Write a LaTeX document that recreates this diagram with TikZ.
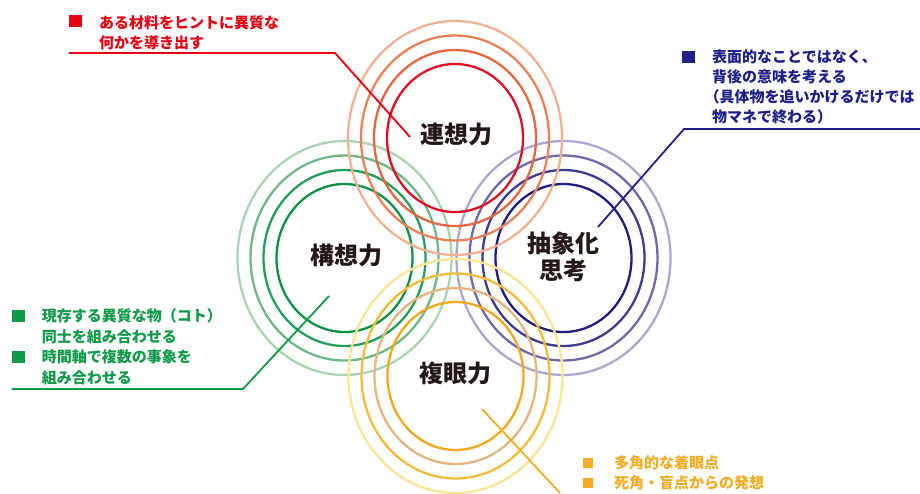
\documentclass[tikz,border=0pt]{standalone}
\usepackage{fontspec}
\newfontfamily\jpfont{Noto Sans CJK JP}
\usetikzlibrary{calc}

% ring colours, inner to outer
\definecolor{koso1}{HTML}{0C9247}
\definecolor{koso2}{HTML}{22A05A}
\definecolor{koso3}{HTML}{6EB886}
\definecolor{koso4}{HTML}{A8D4B0}
\definecolor{chusho1}{HTML}{1B1F7F}
\definecolor{chusho2}{HTML}{3F3B8F}
\definecolor{chusho3}{HTML}{6F69AC}
\definecolor{chusho4}{HTML}{ABA6D2}
\definecolor{renso1}{HTML}{E00F22}
\definecolor{renso2}{HTML}{E8663F}
\definecolor{renso3}{HTML}{EC8158}
\definecolor{renso4}{HTML}{F3B193}
\definecolor{fukugan1}{HTML}{F2A81D}
\definecolor{fukugan2}{HTML}{E4B67E}
\definecolor{fukugan3}{HTML}{F6BA3A}
\definecolor{fukugan4}{HTML}{FBE595}
% text colours
\definecolor{labelBlack}{HTML}{231815}
\definecolor{rensoText}{HTML}{E60012}
\definecolor{chushoText}{HTML}{1D2088}
\definecolor{kosoText}{HTML}{109A48}
\definecolor{fukuganText}{HTML}{F4AC24}

\begin{document}
\begin{tikzpicture}[x=1pt, y=-1pt,
    ringline/.style={line width=2.3pt},
    ringlabel/.style={text=labelBlack, inner sep=0pt, align=center,
        font=\jpfont\bfseries\fontsize{24}{27}\selectfont},
    notetext/.style={anchor=base west, inner sep=0pt, align=left,
        font=\jpfont\bfseries\fontsize{15}{20.5}\selectfont},
    bulletbox/.style={inner sep=0pt, minimum width=13pt, minimum height=12pt},
    leaderline/.style={line width=1.8pt}]

    \useasboundingbox (0,0) rectangle (920,493);

    % Four sets of rings
    % order: left, right, top, bottom
    \foreach \set/\cx/\cy in {koso/344.5/258, chusho/563.5/258, renso/455/138, fukugan/455.5/376} {
        \foreach \rx/\ry [count=\i] in {68/74, 81/88, 94/102.5, 107/117} {
            \draw[ringline, draw=\set\i] (\cx,\cy) ellipse [x radius=\rx pt, y radius=\ry pt];
        }
    }

    % Ring labels
    \node[ringlabel] (renso) at (456,134) {連想力};
    \node[ringlabel] (koso) at (346,255) {構想力};
    \node[ringlabel] (chusho) at (563,256.5) {抽象化\\思考};
    \node[ringlabel] (fukugan) at (455.5,373) {複眼力};

    % Top left note (red)
    % (multi-line text: base = last line)
    \node[bulletbox, fill=rensoText] (rensoBullet) at (75.5,21) {};
    \node[notetext, text=rensoText] (rensoNote) at (99,48.7)
        {ある材料をヒントに異質な\\何かを導き出す};
    \coordinate (rensoBend) at (335,53);
    \coordinate (rensoEnd) at (410,137);
    \draw[leaderline, rensoText] (rensoBullet.west |- rensoBend) -- (rensoBend) -- (rensoEnd);

    % Top right note (blue)
    \node[bulletbox, fill=chushoText] (chushoBullet) at (688.5,57) {};
    \node[notetext, text=chushoText, font=\jpfont\bfseries\fontsize{15}{20}\selectfont] (chushoNote) at (712,122.7)
        {表面的なことではなく、\\背後の意味を考える\\\hspace*{-0.5em}（具体物を追いかけるだけでは\\物マネで終わる）};
    \coordinate (chushoBend) at (684,129);
    \coordinate (chushoEnd) at (598,227);
    \coordinate (chushoRight) at (920,129);
    \draw[leaderline, chushoText] (chushoRight) -- (chushoBend) -- (chushoEnd);

    % Left note (green)
    \node[bulletbox, fill=kosoText] (kosoBulletA) at (18.3,316) {};
    \node[bulletbox, fill=kosoText] (kosoBulletB) at (18.3,357) {};
    \node[notetext, text=kosoText] (kosoNote) at (41.7,383.2)
        {現存する異質な物（コト）\\同士を組み合わせる\\時間軸で複数の事象を\\組み合わせる};
    \coordinate (kosoBend) at (243,389);
    \coordinate (kosoEnd) at (329,296);
    \draw[leaderline, kosoText] (kosoBulletA.west |- kosoBend) -- (kosoBend) -- (kosoEnd);

    % Bottom right note (yellow)
    \node[bulletbox, fill=fukuganText, minimum width=10pt, minimum height=10pt] (fukuganBulletA) at (588,463) {};
    \node[bulletbox, fill=fukuganText, minimum width=10pt, minimum height=10pt] (fukuganBulletB) at (588,482.5) {};
    \node[notetext, text=fukuganText, font=\jpfont\bfseries\fontsize{15}{19.5}\selectfont] (fukuganNote) at (614,488.4)
        {多角的な着眼点\\死角・盲点からの発想};
    \coordinate (fukuganStart) at (482,409);
    \coordinate (fukuganEnd) at (560,493);
    \draw[leaderline, fukuganText] (fukuganStart) -- (fukuganEnd);

\end{tikzpicture}
\end{document}
